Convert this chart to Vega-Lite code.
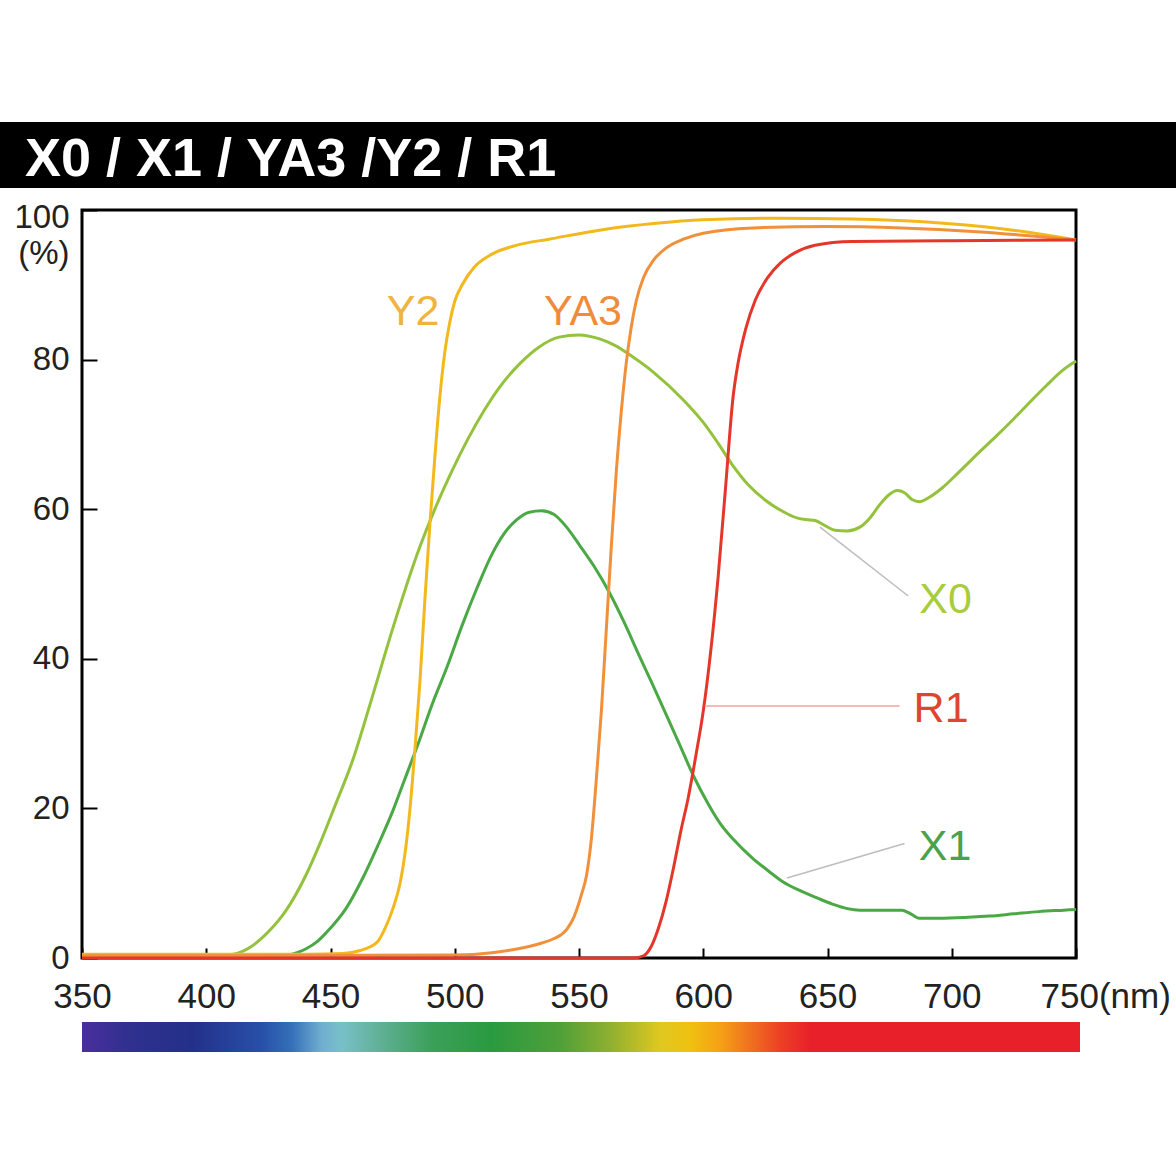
{
  "$schema": "https://vega.github.io/schema/vega-lite/v6.json",
  "background": "white",
  "padding": {"left": -2, "top": 120, "right": 0, "bottom": 0},
  "config": {"view": {"stroke": null}, "font": "Liberation Sans"},
  "datasets": {
    "heading": [{"heading": "X0 / X1 / YA3 /Y2 / R1"}],
    "spectrum": [{"band": "visible", "nm_from": 350, "nm_to": 750}],
    "labels": [
      {"filter": "Y2", "nm": 483.2, "pct": 86.3},
      {"filter": "YA3", "nm": 551.6, "pct": 86.3},
      {"filter": "X0", "nm": 697.5, "pct": 47.9},
      {"filter": "R1", "nm": 695.7, "pct": 33.3},
      {"filter": "X1", "nm": 697.3, "pct": 14.9}
    ],
    "leaders": [
      {"filter": "X0", "nm": 647, "pct": 57.6, "nm_end": 682.5, "pct_end": 48.4},
      {"filter": "R1", "nm": 600.7, "pct": 33.7, "nm_end": 679, "pct_end": 33.7},
      {"filter": "X1", "nm": 633.7, "pct": 10.7, "nm_end": 681, "pct_end": 15.3}
    ],
    "curves": [
      {"filter": "X0", "nm": 350, "pct": 0.3}, {"filter": "X0", "nm": 405, "pct": 0.3}, {"filter": "X0", "nm": 411, "pct": 0.5},
      {"filter": "X0", "nm": 418, "pct": 1.5}, {"filter": "X0", "nm": 425, "pct": 3.5}, {"filter": "X0", "nm": 432, "pct": 6.3},
      {"filter": "X0", "nm": 440, "pct": 11}, {"filter": "X0", "nm": 446, "pct": 15.5}, {"filter": "X0", "nm": 452, "pct": 20.5},
      {"filter": "X0", "nm": 459, "pct": 26.5}, {"filter": "X0", "nm": 466, "pct": 34}, {"filter": "X0", "nm": 475, "pct": 44},
      {"filter": "X0", "nm": 486, "pct": 55}, {"filter": "X0", "nm": 493, "pct": 60.8}, {"filter": "X0", "nm": 499, "pct": 65.2},
      {"filter": "X0", "nm": 505, "pct": 69.2}, {"filter": "X0", "nm": 512, "pct": 73.3}, {"filter": "X0", "nm": 518, "pct": 76.3},
      {"filter": "X0", "nm": 526, "pct": 79.4}, {"filter": "X0", "nm": 534, "pct": 81.7}, {"filter": "X0", "nm": 542, "pct": 83},
      {"filter": "X0", "nm": 550, "pct": 83.3}, {"filter": "X0", "nm": 558, "pct": 82.8}, {"filter": "X0", "nm": 565, "pct": 81.8},
      {"filter": "X0", "nm": 571, "pct": 80.5}, {"filter": "X0", "nm": 580, "pct": 78.3}, {"filter": "X0", "nm": 592, "pct": 74.6},
      {"filter": "X0", "nm": 600, "pct": 71.6}, {"filter": "X0", "nm": 606, "pct": 68.8}, {"filter": "X0", "nm": 612, "pct": 65.8},
      {"filter": "X0", "nm": 618, "pct": 63.3}, {"filter": "X0", "nm": 625, "pct": 61.2}, {"filter": "X0", "nm": 632, "pct": 59.7},
      {"filter": "X0", "nm": 638, "pct": 58.8}, {"filter": "X0", "nm": 642, "pct": 58.6}, {"filter": "X0", "nm": 645, "pct": 58.5},
      {"filter": "X0", "nm": 649, "pct": 57.8}, {"filter": "X0", "nm": 653, "pct": 57.2}, {"filter": "X0", "nm": 658, "pct": 57.1},
      {"filter": "X0", "nm": 663, "pct": 57.6}, {"filter": "X0", "nm": 667, "pct": 58.8}, {"filter": "X0", "nm": 671, "pct": 60.6},
      {"filter": "X0", "nm": 675, "pct": 62}, {"filter": "X0", "nm": 678, "pct": 62.5}, {"filter": "X0", "nm": 681, "pct": 62.2},
      {"filter": "X0", "nm": 684, "pct": 61.3}, {"filter": "X0", "nm": 687, "pct": 61}, {"filter": "X0", "nm": 691, "pct": 61.6},
      {"filter": "X0", "nm": 696, "pct": 62.8}, {"filter": "X0", "nm": 703, "pct": 65}, {"filter": "X0", "nm": 711, "pct": 67.6},
      {"filter": "X0", "nm": 718, "pct": 69.8}, {"filter": "X0", "nm": 725, "pct": 72.1}, {"filter": "X0", "nm": 732, "pct": 74.5},
      {"filter": "X0", "nm": 738, "pct": 76.5}, {"filter": "X0", "nm": 744, "pct": 78.4}, {"filter": "X0", "nm": 750, "pct": 79.8},

      {"filter": "X1", "nm": 350, "pct": 0.2}, {"filter": "X1", "nm": 428, "pct": 0.2}, {"filter": "X1", "nm": 433, "pct": 0.4},
      {"filter": "X1", "nm": 440, "pct": 1.2}, {"filter": "X1", "nm": 445, "pct": 2.3}, {"filter": "X1", "nm": 450, "pct": 4},
      {"filter": "X1", "nm": 456, "pct": 6.5}, {"filter": "X1", "nm": 463, "pct": 10.7}, {"filter": "X1", "nm": 469, "pct": 15},
      {"filter": "X1", "nm": 475, "pct": 19.6}, {"filter": "X1", "nm": 480, "pct": 24}, {"filter": "X1", "nm": 485, "pct": 28.4},
      {"filter": "X1", "nm": 491, "pct": 34}, {"filter": "X1", "nm": 497, "pct": 39}, {"filter": "X1", "nm": 503, "pct": 44.5},
      {"filter": "X1", "nm": 509, "pct": 49.5}, {"filter": "X1", "nm": 515, "pct": 54}, {"filter": "X1", "nm": 520, "pct": 56.8},
      {"filter": "X1", "nm": 525, "pct": 58.6}, {"filter": "X1", "nm": 530, "pct": 59.6}, {"filter": "X1", "nm": 535, "pct": 59.8},
      {"filter": "X1", "nm": 540, "pct": 59.3}, {"filter": "X1", "nm": 545, "pct": 57.6}, {"filter": "X1", "nm": 550, "pct": 55.3},
      {"filter": "X1", "nm": 556, "pct": 52.4}, {"filter": "X1", "nm": 562, "pct": 49}, {"filter": "X1", "nm": 568, "pct": 45},
      {"filter": "X1", "nm": 574, "pct": 40.6}, {"filter": "X1", "nm": 579, "pct": 37}, {"filter": "X1", "nm": 585, "pct": 32.6},
      {"filter": "X1", "nm": 590, "pct": 28.9}, {"filter": "X1", "nm": 596, "pct": 24.4}, {"filter": "X1", "nm": 602, "pct": 20.6},
      {"filter": "X1", "nm": 607, "pct": 17.9}, {"filter": "X1", "nm": 612, "pct": 15.9}, {"filter": "X1", "nm": 620, "pct": 13.3},
      {"filter": "X1", "nm": 626, "pct": 11.7}, {"filter": "X1", "nm": 632, "pct": 10.2}, {"filter": "X1", "nm": 639, "pct": 9},
      {"filter": "X1", "nm": 646, "pct": 8}, {"filter": "X1", "nm": 652, "pct": 7.2}, {"filter": "X1", "nm": 658, "pct": 6.6},
      {"filter": "X1", "nm": 663, "pct": 6.4}, {"filter": "X1", "nm": 672, "pct": 6.4}, {"filter": "X1", "nm": 680, "pct": 6.4},
      {"filter": "X1", "nm": 684, "pct": 5.8}, {"filter": "X1", "nm": 687, "pct": 5.3}, {"filter": "X1", "nm": 695, "pct": 5.3},
      {"filter": "X1", "nm": 705, "pct": 5.4}, {"filter": "X1", "nm": 715, "pct": 5.6}, {"filter": "X1", "nm": 725, "pct": 5.9},
      {"filter": "X1", "nm": 735, "pct": 6.2}, {"filter": "X1", "nm": 745, "pct": 6.4}, {"filter": "X1", "nm": 750, "pct": 6.5},

      {"filter": "Y2", "nm": 350, "pct": 0.5}, {"filter": "Y2", "nm": 440, "pct": 0.5}, {"filter": "Y2", "nm": 455, "pct": 0.6},
      {"filter": "Y2", "nm": 462, "pct": 1}, {"filter": "Y2", "nm": 466, "pct": 1.5}, {"filter": "Y2", "nm": 469, "pct": 2.2},
      {"filter": "Y2", "nm": 472, "pct": 4}, {"filter": "Y2", "nm": 475, "pct": 6.5}, {"filter": "Y2", "nm": 478, "pct": 10},
      {"filter": "Y2", "nm": 480, "pct": 14}, {"filter": "Y2", "nm": 482, "pct": 20}, {"filter": "Y2", "nm": 484, "pct": 28},
      {"filter": "Y2", "nm": 486, "pct": 37}, {"filter": "Y2", "nm": 488, "pct": 48}, {"filter": "Y2", "nm": 490, "pct": 58},
      {"filter": "Y2", "nm": 492, "pct": 67}, {"filter": "Y2", "nm": 494, "pct": 75}, {"filter": "Y2", "nm": 496, "pct": 81},
      {"filter": "Y2", "nm": 498, "pct": 85}, {"filter": "Y2", "nm": 500, "pct": 87.8}, {"filter": "Y2", "nm": 503, "pct": 90},
      {"filter": "Y2", "nm": 508, "pct": 92.4}, {"filter": "Y2", "nm": 515, "pct": 94.1}, {"filter": "Y2", "nm": 525, "pct": 95.3},
      {"filter": "Y2", "nm": 538, "pct": 96.1}, {"filter": "Y2", "nm": 560, "pct": 97.4}, {"filter": "Y2", "nm": 580, "pct": 98.2},
      {"filter": "Y2", "nm": 600, "pct": 98.7}, {"filter": "Y2", "nm": 630, "pct": 98.9}, {"filter": "Y2", "nm": 660, "pct": 98.8},
      {"filter": "Y2", "nm": 690, "pct": 98.4}, {"filter": "Y2", "nm": 720, "pct": 97.5}, {"filter": "Y2", "nm": 750, "pct": 96},

      {"filter": "YA3", "nm": 350, "pct": 0.3}, {"filter": "YA3", "nm": 500, "pct": 0.4}, {"filter": "YA3", "nm": 515, "pct": 0.7},
      {"filter": "YA3", "nm": 525, "pct": 1.2}, {"filter": "YA3", "nm": 535, "pct": 2}, {"filter": "YA3", "nm": 540, "pct": 2.6},
      {"filter": "YA3", "nm": 545, "pct": 3.8}, {"filter": "YA3", "nm": 548, "pct": 5.5}, {"filter": "YA3", "nm": 551, "pct": 8.5},
      {"filter": "YA3", "nm": 553, "pct": 11}, {"filter": "YA3", "nm": 555, "pct": 16}, {"filter": "YA3", "nm": 557, "pct": 24},
      {"filter": "YA3", "nm": 559, "pct": 33}, {"filter": "YA3", "nm": 561, "pct": 44}, {"filter": "YA3", "nm": 563, "pct": 55},
      {"filter": "YA3", "nm": 565, "pct": 65}, {"filter": "YA3", "nm": 567, "pct": 73}, {"filter": "YA3", "nm": 569, "pct": 79.5},
      {"filter": "YA3", "nm": 571, "pct": 84.3}, {"filter": "YA3", "nm": 573, "pct": 87.8}, {"filter": "YA3", "nm": 576, "pct": 91},
      {"filter": "YA3", "nm": 580, "pct": 93.3}, {"filter": "YA3", "nm": 585, "pct": 94.9}, {"filter": "YA3", "nm": 592, "pct": 96.1},
      {"filter": "YA3", "nm": 600, "pct": 96.9}, {"filter": "YA3", "nm": 620, "pct": 97.6}, {"filter": "YA3", "nm": 650, "pct": 97.8},
      {"filter": "YA3", "nm": 680, "pct": 97.6}, {"filter": "YA3", "nm": 710, "pct": 97.1}, {"filter": "YA3", "nm": 750, "pct": 96},

      {"filter": "R1", "nm": 350, "pct": 0}, {"filter": "R1", "nm": 572, "pct": 0}, {"filter": "R1", "nm": 576, "pct": 0.3},
      {"filter": "R1", "nm": 579, "pct": 1.5}, {"filter": "R1", "nm": 582, "pct": 4}, {"filter": "R1", "nm": 585, "pct": 7.5},
      {"filter": "R1", "nm": 588, "pct": 12}, {"filter": "R1", "nm": 591, "pct": 17}, {"filter": "R1", "nm": 594, "pct": 21.5},
      {"filter": "R1", "nm": 597, "pct": 27}, {"filter": "R1", "nm": 600, "pct": 33}, {"filter": "R1", "nm": 603, "pct": 41},
      {"filter": "R1", "nm": 606, "pct": 51}, {"filter": "R1", "nm": 609, "pct": 63}, {"filter": "R1", "nm": 612, "pct": 75},
      {"filter": "R1", "nm": 614, "pct": 79.5}, {"filter": "R1", "nm": 617, "pct": 84}, {"filter": "R1", "nm": 621, "pct": 88},
      {"filter": "R1", "nm": 626, "pct": 91}, {"filter": "R1", "nm": 631, "pct": 92.9}, {"filter": "R1", "nm": 637, "pct": 94.3},
      {"filter": "R1", "nm": 645, "pct": 95.3}, {"filter": "R1", "nm": 660, "pct": 95.8}, {"filter": "R1", "nm": 700, "pct": 95.9},
      {"filter": "R1", "nm": 750, "pct": 96}
    ]
  },
  "spacing": 6,
  "vconcat": [
    {
      "width": 994,
      "height": 748,
      "view": {"stroke": "black", "strokeWidth": 3},
      "resolve": {"scale": {"color": "independent"}},
      "layer": [
        {
          "data": {"name": "heading"},
          "mark": {"type": "rect", "color": "black"},
          "encoding": {
            "x": {"datum": 317, "type": "quantitative"},
            "x2": {"datum": 792},
            "y": {"datum": 102.94, "type": "quantitative"},
            "y2": {"datum": 111.76}
          }
        },
        {
          "data": {"name": "heading"},
          "mark": {
            "type": "text", "color": "white", "align": "left", "baseline": "alphabetic",
            "font": "Liberation Sans", "fontSize": 54, "fontWeight": "bold"
          },
          "encoding": {
            "x": {"datum": 327.06, "type": "quantitative"},
            "y": {"datum": 104.55, "type": "quantitative"},
            "text": {"field": "heading"}
          }
        },
        {
          "data": {"name": "curves"},
          "mark": {"type": "line", "strokeWidth": 3, "interpolate": "monotone"},
          "encoding": {
            "x": {
              "field": "nm", "type": "quantitative",
              "scale": {"domain": [350, 750], "nice": false, "zero": false},
              "axis": {
                "values": [350, 400, 450, 500, 550, 600, 650, 700, 750],
                "title": null, "grid": false, "domain": false,
                "tickSize": -10, "tickWidth": 2, "tickColor": "black",
                "labelFontSize": 35, "labelColor": "#222222", "labelPadding": 31,
                "labelFlush": false, "labelOverlap": false,
                "labelExpr": "datum.value == 750 ? '750(nm)' : datum.label",
                "labelAlign": {"condition": {"test": "datum.value == 750", "value": "left"}, "value": "center"},
                "labelOffset": {"condition": {"test": "datum.value == 750", "value": -36}, "value": 0}
              }
            },
            "y": {
              "field": "pct", "type": "quantitative",
              "scale": {"domain": [0, 100], "nice": false},
              "axis": {
                "values": [0, 20, 40, 60, 80, 100],
                "title": null, "grid": false, "domain": false,
                "tickSize": -15, "tickWidth": 2, "tickColor": "black",
                "labelFontSize": 33, "labelColor": "#222222", "labelPadding": 28,
                "labelFlush": false, "labelOverlap": false,
                "labelExpr": "datum.value == 100 ? ['100', '(%)'] : datum.label",
                "labelBaseline": {"condition": {"test": "datum.value == 100", "value": "top"}, "value": "middle"},
                "labelOffset": {"condition": {"test": "datum.value == 100", "value": -9}, "value": 0},
                "labelLineHeight": 36
              }
            },
            "color": {
              "field": "filter", "type": "nominal",
              "scale": {"domain": ["X0", "X1", "Y2", "YA3", "R1"], "range": ["#95c23d", "#4aa845", "#f2b81c", "#f0903a", "#e5362a"]},
              "legend": null
            }
          }
        },
        {
          "data": {"name": "leaders"},
          "mark": {"type": "rule", "strokeWidth": 1.5},
          "encoding": {
            "x": {"field": "nm", "type": "quantitative"},
            "x2": {"field": "nm_end"},
            "y": {"field": "pct", "type": "quantitative"},
            "y2": {"field": "pct_end"},
            "color": {
              "field": "filter", "type": "nominal",
              "scale": {"domain": ["X0", "R1", "X1"], "range": ["#bdbdbd", "#f5a3a0", "#bdbdbd"]},
              "legend": null
            }
          }
        },
        {
          "data": {"name": "labels"},
          "mark": {"type": "text", "fontSize": 43, "font": "Liberation Sans", "align": "center", "baseline": "middle"},
          "encoding": {
            "x": {"field": "nm", "type": "quantitative"},
            "y": {"field": "pct", "type": "quantitative"},
            "text": {"field": "filter"},
            "color": {
              "field": "filter", "type": "nominal",
              "scale": {"domain": ["Y2", "YA3", "X0", "R1", "X1"], "range": ["#f0b43c", "#ee8c3c", "#a8cc3c", "#e0452e", "#4aa24a"]},
              "legend": null
            }
          }
        }
      ]
    },
    {
      "width": 998,
      "height": 30,
      "data": {"name": "spectrum"},
      "mark": {
        "type": "rect",
        "color": {
          "gradient": "linear", "x1": 0, "x2": 1, "y1": 0, "y2": 0,
          "stops": [
            {"offset": 0, "color": "#4b2e9e"},
            {"offset": 0.045, "color": "#30308f"},
            {"offset": 0.11, "color": "#23308a"},
            {"offset": 0.18, "color": "#2850a8"},
            {"offset": 0.21, "color": "#3470b8"},
            {"offset": 0.24, "color": "#70aed0"},
            {"offset": 0.26, "color": "#78c0c8"},
            {"offset": 0.30, "color": "#5fb094"},
            {"offset": 0.35, "color": "#3ba05a"},
            {"offset": 0.41, "color": "#2a9a40"},
            {"offset": 0.48, "color": "#50a038"},
            {"offset": 0.53, "color": "#90b030"},
            {"offset": 0.58, "color": "#e0c820"},
            {"offset": 0.61, "color": "#f0c010"},
            {"offset": 0.64, "color": "#f5a015"},
            {"offset": 0.67, "color": "#f07020"},
            {"offset": 0.70, "color": "#ec4025"},
            {"offset": 0.73, "color": "#e8202a"},
            {"offset": 1, "color": "#e8202a"}
          ]
        }
      },
      "encoding": {
        "x": {"field": "nm_from", "type": "quantitative", "scale": {"domain": [350, 750], "nice": false, "zero": false}, "axis": null},
        "x2": {"field": "nm_to"}
      }
    }
  ]
}
